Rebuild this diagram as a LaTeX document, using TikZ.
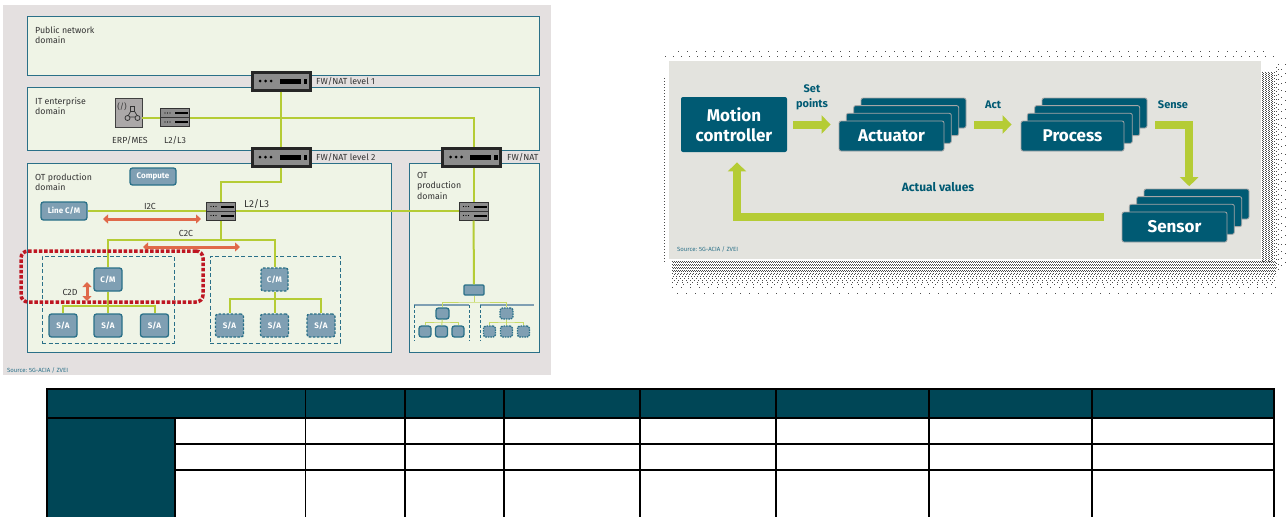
\documentclass[tikz,border=0pt]{standalone}
\usepackage{fontspec}
\setmainfont{Fira Sans}
\usetikzlibrary{arrows.meta}
\definecolor{panelgray}{HTML}{E4E0E0}
\definecolor{domainfill}{HTML}{EFF4E6}
\definecolor{domainline}{HTML}{2A7088}
\definecolor{linkgreen}{HTML}{B5CC35}
\definecolor{boxblue}{HTML}{7F9FB3}
\definecolor{cardteal}{HTML}{005A73}
\definecolor{tableteal}{HTML}{004656}
\definecolor{linkorange}{HTML}{E0694A}
\definecolor{focusred}{HTML}{BE1622}
\definecolor{labelgray}{HTML}{333333}
\definecolor{flowpanel}{HTML}{E3E3DE}
\tikzset{
  domainbox/.style={draw=domainline,fill=domainfill,line width=1pt,inner sep=0pt,outer sep=0pt},
  fwbox/.style={draw=black!85,fill=black!45,line width=3pt,minimum width=58pt,minimum height=18pt,inner sep=0pt,outer sep=1.5pt},
  swbox/.style={draw=black!80,fill=black!45,line width=1pt,minimum width=29pt,minimum height=18pt,inner sep=0pt,outer sep=.5pt},
  cmbox/.style={draw=domainline,fill=boxblue,line width=1.3pt,rounded corners=2.5pt,inner sep=0pt,text=white,font=\fontsize{8}{9}\selectfont\bfseries},
  cmdash/.style={cmbox,dash pattern=on 2.5pt off 1.5pt},
  sectionbox/.style={draw=domainline,line width=1pt,dash pattern=on 4pt off 2.5pt,inner sep=0pt},
  focusbox/.style={draw=focusred,line width=3.5pt,dash pattern=on 3.5pt off 1.8pt,rounded corners=7pt,minimum width=182pt,minimum height=51pt,inner sep=0pt},
  domaintxt/.style={anchor=north west,align=left,inner sep=0pt,text=labelgray,font=\fontsize{8.8}{10.5}\selectfont},
  smalltxt/.style={inner sep=0pt,text=labelgray,font=\fontsize{8.8}{10}\selectfont},
  sourcetxt/.style={anchor=west,inner sep=0pt,text=domainline,font=\fontsize{6}{7}\selectfont},
  greenlink/.style={draw=linkgreen,line width=2pt},
  thinlink/.style={draw=linkgreen!75,line width=1pt},
  busarrow/.style={draw=linkorange,line width=3pt,{Triangle[length=5pt,width=9pt]}-{Triangle[length=5pt,width=9pt]}},
  card/.style={draw=black!35,fill=cardteal,line width=.8pt,rounded corners=2pt,minimum width=105pt,minimum height=30pt,inner sep=0pt,text=white,font=\fontsize{17}{20}\selectfont\bfseries,align=center},
  flowarrow/.style={draw=linkgreen,line width=8pt,-{Triangle[length=9pt,width=18pt]}},
  flowtxt/.style={inner sep=0pt,text=cardteal,align=center,font=\fontsize{11}{15}\selectfont\bfseries},
  dither/.style={draw=black!70,line width=1pt},
}
\newcommand{\fwnode}[2]{
  \node[fwbox] (#1) at (#2) {};
  \foreach \dx in {-21,-15.5,-10} \fill[black] ([xshift=\dx pt]#1.center) circle (1.5pt);
  \fill[black] ([xshift=-1.5pt,yshift=-2.5pt]#1.center) rectangle +(21pt,5pt);
  \fill[black] ([xshift=22.5pt,yshift=-2.5pt]#1.center) rectangle +(3.5pt,5pt);
}
\newcommand{\swnode}[2]{
  \node[swbox] (#1) at (#2) {};
  \draw[black!80,line width=1pt] (#1.west) -- (#1.east);
  \foreach \dy in {-4.5,4.5} {
    \foreach \dx in {-10,-7.5,-5} \fill[black] ([xshift=\dx pt,yshift=\dy pt]#1.center) circle (.6pt);
    \fill[black] ([xshift=0pt,yshift=\dy pt-1pt]#1.center) rectangle +(13pt,2pt);
  }
}
% four cards, the front one holds the text
\newcommand{\cardstack}[4]{
  \foreach \i/\dx/\dy in {4/22/-23,3/14.7/-15.4,2/7.3/-7.7} \node[card] (#1\i) at ([xshift=\dx pt,yshift=-\dy pt]#2) {};
  \node[card,minimum width=#4] (#11) at (#2) {#3};
}
\begin{document}
\begin{tikzpicture}[x=1pt,y=-1pt]
  \useasboundingbox (0,0) rectangle (1287,517);

  % left panel
  \fill[panelgray] (3,5) rectangle (551,375);
  \draw[domainbox] (27,16) rectangle (539,75);
  \draw[domainbox] (27,87) rectangle (539,150);
  \draw[domainbox] (27,163) rectangle (391,352);
  \draw[domainbox] (409,163) rectangle (539,352);
  \node[domaintxt] (pubtxt) at (35,26) {Public network\\domain};
  \node[domaintxt] (ittxt) at (35,97) {IT enterprise\\domain};
  \node[domaintxt] (ottxt) at (35,173) {OT production\\domain};
  \node[domaintxt] (ot2txt) at (417,172) {OT\\production\\domain};

  \fwnode{fwa}{281,81}
  \fwnode{fwb}{281,157}
  \fwnode{fwc}{471.5,157}
  \node[smalltxt,anchor=west] (fwatxt) at (316,81) {FW/NAT level 1};
  \node[smalltxt,anchor=west] (fwbtxt) at (316,157) {FW/NAT level 2};
  \node[smalltxt,anchor=west] (fwctxt) at (507,157) {FW/NAT};

  \node[draw=black!75,fill=black!25!panelgray,line width=.8pt,minimum width=27pt,minimum height=29pt,inner sep=0pt] (erp) at (128.5,112.5) {};
  \node[inner sep=0pt,text=black!80,font=\fontsize{8}{8}\selectfont] (erpsign) at (122,107) {(/)};
  \draw[black!80,line width=.7pt] (132.5,108) -- (127.5,117) -- (138,117) -- cycle;
  \draw[black!80,line width=.8pt,fill=black!25!panelgray] (130.5,106) rectangle (134.5,111);
  \draw[black!80,line width=.8pt,fill=black!25!panelgray] (127.5,118) circle (2.5pt);
  \draw[black!80,line width=.8pt,fill=black!25!panelgray] (137.5,118) circle (2.5pt);
  \swnode{itsw}{175,117.5}
  \node[smalltxt] (erptxt) at (130,140) {ERP/MES};
  \node[smalltxt] (ittxtb) at (175,140) {L2/L3};

  \node[cmbox,minimum width=46pt,minimum height=18pt] (line) at (64,211) {Line C/M};
  \node[cmbox,minimum width=46pt,minimum height=17pt,fill=boxblue] (compute) at (153,176.5) {Compute};
  \swnode{otsw}{221,211}
  \swnode{otbsw}{473.5,211}
  \node[smalltxt,anchor=west,font=\fontsize{10}{11}\selectfont] (swtxt) at (244,204) {L2/L3};

  % sections below the switch
  \node[sectionbox,minimum width=132pt,minimum height=87pt] (secl) at (108,299.5) {};
  \node[sectionbox,minimum width=130pt,minimum height=87pt] (secr) at (275,299.5) {};
  \node[cmbox,minimum width=28pt,minimum height=23pt] (cma) at (108,279.5) {C/M};
  \node[cmdash,minimum width=27pt,minimum height=23pt] (cmb) at (274.5,279.5) {C/M};
  \foreach \n/\x in {saa/63,sab/108,sac/154.5}
    \node[cmbox,minimum width=28pt,minimum height=23pt] (\n) at (\x,325.5) {S/A};
  \foreach \n/\x in {sad/229.5,sae/274.5,saf/321}
    \node[cmdash,minimum width=28pt,minimum height=23pt] (\n) at (\x,325.5) {S/A};

  \coordinate (bend) at (221,182);
  \coordinate (cbus) at (221,240);
  \coordinate (busa) at (108,306);
  \coordinate (busb) at (274.5,299);
  \draw[greenlink] (erp.east |- itsw) -- (itsw);
  \draw[greenlink] (itsw.east) -| ([xshift=2.5pt]fwc.north);
  \draw[greenlink] (fwa) -- (fwb);
  \draw[greenlink] (fwb.south) |- (bend) -- (otsw.north);
  \draw[greenlink] (line) -- (otsw);
  \draw[greenlink] (otsw) -- (otbsw);
  \draw[greenlink] (otsw) -- (cbus);
  \draw[greenlink] (cma) |- (cbus) -| (cmb);
  \draw[greenlink] (cma) -- (sab);
  \draw[greenlink] (saa) |- (busa) -| (sac);
  \draw[greenlink] (cmb) -- (sae);
  \draw[greenlink] (sad) |- (busb) -| (saf);

  \node[smalltxt] (itctxt) at (150,206) {I2C};
  \node[smalltxt] (ctctxt) at (186,233) {C2C};
  \node[smalltxt] (ctdtxt) at (70,292) {C2D};
  \coordinate (itca) at (103,219);
  \coordinate (itcb) at (201,219);
  \coordinate (ctca) at (143,247);
  \coordinate (ctcb) at (240,247);
  \coordinate (ctda) at (87,282);
  \coordinate (ctdb) at (87,301);
  \draw[busarrow] (itca) -- (itcb);
  \draw[busarrow] (ctca) -- (ctcb);
  \draw[busarrow] (ctda) -- (ctdb);
  \node[focusbox] (focus) at (112,276.5) {};

  % small tree in the second production domain
  \node[cmbox,rounded corners=1pt,minimum width=20pt,minimum height=10pt] (mbox) at (474,290) {};
  \draw[greenlink] (otbsw) -- (otbsw |- fwc.south);
  \draw[greenlink] (otbsw) -- (mbox);
  \draw[draw=boxblue,line width=1.5pt] (414,305) -- (469,305);
  \draw[draw=boxblue,line width=1.5pt] (480,305) -- (534,305);
  \draw[draw=domainline,line width=.8pt,dash pattern=on 3pt off 2pt] (414,305) -- (414,341);
  \draw[draw=domainline,line width=.8pt,dash pattern=on 3pt off 2pt] (469,305) -- (469,341);
  \draw[draw=domainline,line width=.8pt,dash pattern=on 3pt off 2pt] (480,305) -- (480,341);
  \node[cmbox,minimum width=13pt,minimum height=11pt] (tcl) at (442.5,313.5) {};
  \node[cmdash,minimum width=13pt,minimum height=11pt,dash pattern=on 1.5pt off 1pt] (tcr) at (506.5,313.5) {};
  \foreach \n/\x in {tsa/425,tsb/441.5,tsc/458}
    \node[cmbox,minimum width=12pt,minimum height=11pt] (\n) at (\x,331.5) {};
  \foreach \n/\x in {tsd/489.5,tse/506.5,tsf/523.5}
    \node[cmdash,minimum width=12pt,minimum height=11pt,dash pattern=on 1.5pt off 1pt] (\n) at (\x,331.5) {};
  \coordinate (tbus) at (474,302);
  \coordinate (tbl) at (442.5,322);
  \coordinate (tbr) at (506.5,322);
  \draw[thinlink] (mbox) -- (tbus);
  \draw[thinlink] (tcl) |- (tbus) -| (tcr);
  \draw[thinlink] (tcl) -- (tsb);
  \draw[thinlink] (tsa) |- (tbl) -| (tsc);
  \draw[thinlink] (tcr) -- (tse);
  \draw[thinlink] (tsd) |- (tbr) -| (tsf);
  \node[sourcetxt] (srca) at (7,370) {Source: 5G-ACIA / ZVEI};

  % dotted edge of the right panel
  \foreach \y/\gap/\off in {261/1/0,262.5/1/1,264/1/0,265.5/1/1,267/1/0,268.5/1/1,270/1/0,271.5/1/1,273/2/0,274.5/2/1,276/2/2,278/3/0,280/3/2,282/4/0,284/6/3,287/8/0,293/8/4}
    \draw[dither,dash pattern=on 1pt off \gap pt,dash phase=\off pt] (672,\y) -- (1276,\y);
  \foreach \x/\gap/\off in {1262/1/0,1263.5/1/1,1265/1/0,1266.5/1/1,1268/1/0,1269.5/1/1,1271/1/0,1272.5/1/1,1274/2/0}
    \draw[dither,dash pattern=on 1pt off \gap pt,dash phase=\off pt] (\x,72) -- (\x,262);
  \foreach \x/\gap/\off in {1276/3/1,1278/4/0,1281/6/2,1285/8/0}
    \draw[dither,dash pattern=on 1pt off \gap pt,dash phase=\off pt] (\x,64) -- (\x,270);
  \draw[dither,dash pattern=on 1pt off 8pt] (678,51) -- (1270,51);
  \draw[dither,dash pattern=on 1pt off 7pt] (665,56) -- (1276,56);
  \draw[dither,dash pattern=on 1pt off 2pt] (664,78) -- (664,262);
  \fill[flowpanel] (669,61) rectangle (1261,259);

  % right panel
  \node[card,minimum width=106pt,minimum height=55pt,draw=none] (motion) at (734,124.5) {Motion\\controller};
  \cardstack{act}{891.5,136}{Actuator}{105pt}
  \cardstack{proc}{1072.5,136}{Process}{103pt}
  \cardstack{sens}{1174.5,227}{Sensor}{105pt}
  \draw[flowarrow,shorten <=6pt,shorten >=8pt] (motion.east) -- (motion.east -| act1.west);
  \draw[flowarrow,shorten <=8pt,shorten >=9pt] (act4.east |- motion.east) -- (proc1.west |- motion.east);
  \draw[flowarrow,shorten <=8pt,shorten >=10pt] (proc4.east |- motion.east) -| (sens3.north);
  \draw[flowarrow,shorten <=18pt,shorten >=10pt] ([yshift=10pt]sens1.west) -| ([xshift=3pt]motion.south);
  \node[flowtxt] (settxt) at (812,97.5) {Set\\points};
  \node[flowtxt] (acttxt) at (993,105) {Act};
  \node[flowtxt] (sensetxt) at (1173,105) {Sense};
  \node[flowtxt,font=\fontsize{12}{14}\selectfont\bfseries] (valtxt) at (938,187) {Actual values};
  \node[sourcetxt] (srcb) at (677,249) {Source: 5G-ACIA / ZVEI};

  % empty table
  \fill[tableteal] (47,389) rectangle (1274,418);
  \fill[tableteal] (47,418) rectangle (175,517);
  \foreach \x in {47,305.5,405,504,640,776,929,1092,1274}
    \draw[black,line width=1.2pt] (\x,388) -- (\x,517);
  \draw[black,line width=1.2pt] (175,418) -- (175,517);
  \draw[black,line width=1.2pt] (47,389) -- (1274,389);
  \draw[black,line width=1.2pt] (47,418) -- (1274,418);
  \foreach \y in {444,470}
    \draw[black,line width=1.2pt] (175,\y) -- (1274,\y);
\end{tikzpicture}
\end{document}
